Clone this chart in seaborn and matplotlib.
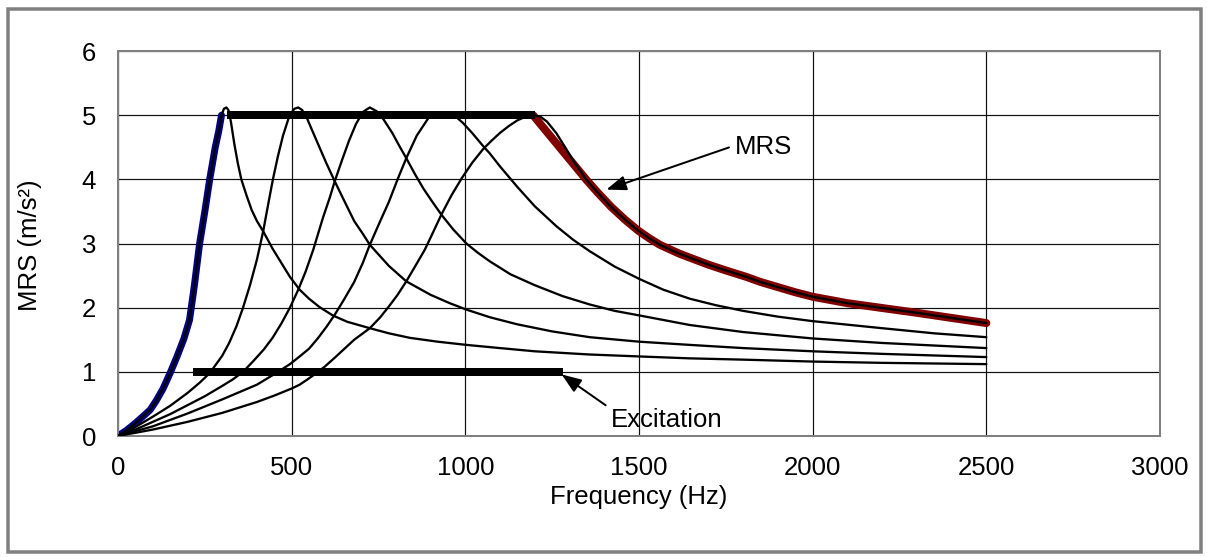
import matplotlib
matplotlib.use("Agg")
import matplotlib.pyplot as plt
import matplotlib.patches as mpatches
import seaborn as sns

# ---------------- data ----------------
f1 = [0, 25, 50, 75, 93, 110, 130, 150, 170, 190, 206, 220, 235, 250, 264, 280, 290, 298, 305, 312, 318, 325, 335, 345, 355, 370, 385, 400, 418, 445, 470, 495, 523, 550, 580, 618, 660, 725, 780, 840, 920, 1003, 1100, 1200, 1358, 1500, 1646, 1800, 2000, 2200, 2500]
v1 = [0, 0.09, 0.2, 0.32, 0.41, 0.55, 0.74, 0.98, 1.24, 1.52, 1.81, 2.35, 3.0, 3.5, 4.0, 4.5, 4.75, 5.0, 5.1, 5.12, 5.08, 4.9, 4.55, 4.25, 4.0, 3.75, 3.52, 3.35, 3.19, 2.92, 2.7, 2.48, 2.28, 2.14, 2.01, 1.88, 1.78, 1.68, 1.6, 1.53, 1.47, 1.42, 1.37, 1.32, 1.27, 1.24, 1.21, 1.19, 1.16, 1.14, 1.12]

f2 = [0, 50, 100, 150, 200, 235, 264, 300, 320, 341, 360, 380, 400, 418, 432, 446, 460, 475, 494, 508, 519, 530, 542, 560, 580, 600, 624, 650, 680, 705, 725, 750, 780, 830, 900, 955, 1003, 1071, 1150, 1250, 1358, 1500, 1646, 1800, 2000, 2200, 2500]
v2 = [0, 0.14, 0.3, 0.47, 0.67, 0.83, 0.98, 1.25, 1.45, 1.71, 2.0, 2.35, 2.75, 3.19, 3.6, 4.0, 4.35, 4.68, 5.0, 5.1, 5.12, 5.08, 4.98, 4.75, 4.5, 4.25, 3.97, 3.68, 3.35, 3.15, 2.98, 2.83, 2.65, 2.41, 2.2, 2.07, 1.97, 1.85, 1.74, 1.63, 1.54, 1.47, 1.42, 1.37, 1.32, 1.28, 1.23]

f3 = [0, 50, 100, 150, 200, 250, 300, 330, 360, 390, 420, 445, 470, 495, 519, 540, 562, 590, 610, 624, 645, 665, 685, 705, 725, 745, 765, 790, 810, 830, 855, 880, 905, 931, 965, 1003, 1035, 1071, 1130, 1200, 1280, 1358, 1430, 1500, 1646, 1800, 2000, 2200, 2500]
v3 = [0, 0.1, 0.22, 0.34, 0.48, 0.62, 0.78, 0.88, 1.0, 1.17, 1.35, 1.53, 1.75, 2.0, 2.28, 2.56, 2.9, 3.4, 3.72, 3.97, 4.3, 4.6, 4.86, 5.05, 5.12, 5.06, 4.93, 4.72, 4.52, 4.33, 4.08, 3.85, 3.65, 3.45, 3.22, 3.0, 2.86, 2.72, 2.52, 2.35, 2.18, 2.05, 1.95, 1.88, 1.73, 1.62, 1.52, 1.45, 1.37]

f4 = [0, 100, 200, 300, 400, 461, 495, 523, 550, 575, 600, 624, 650, 680, 705, 725, 755, 780, 805, 830, 860, 893, 915, 935, 955, 974, 993, 1020, 1051, 1071, 1100, 1150, 1200, 1262, 1310, 1358, 1430, 1500, 1570, 1646, 1720, 1800, 1900, 2000, 2200, 2350, 2500]
v4 = [0, 0.15, 0.35, 0.57, 0.8, 1.0, 1.12, 1.24, 1.36, 1.52, 1.7, 1.89, 2.12, 2.4, 2.7, 2.98, 3.35, 3.65, 4.0, 4.33, 4.68, 4.95, 5.02, 5.04, 5.02, 4.97, 4.88, 4.72, 4.52, 4.4, 4.2, 3.88, 3.58, 3.27, 3.06, 2.88, 2.64, 2.45, 2.28, 2.14, 2.04, 1.95, 1.86, 1.79, 1.68, 1.6, 1.54]

f5 = [0, 100, 200, 300, 400, 450, 500, 523, 545, 566, 595, 624, 650, 680, 705, 725, 755, 780, 805, 830, 855, 883, 905, 931, 960, 990, 1020, 1051, 1075, 1099, 1125, 1150, 1175, 1195, 1215, 1235, 1262, 1285, 1310, 1330, 1349, 1380, 1420, 1460, 1498, 1530, 1560, 1617, 1646, 1700, 1750, 1809, 1850, 1900, 1950, 2000, 2100, 2193, 2300, 2400, 2500]
v5 = [0, 0.1, 0.22, 0.36, 0.53, 0.63, 0.74, 0.8, 0.88, 0.96, 1.08, 1.22, 1.35, 1.5, 1.6, 1.68, 1.85, 2.02, 2.2, 2.41, 2.64, 2.9, 3.15, 3.45, 3.75, 4.02, 4.26, 4.47, 4.6, 4.72, 4.83, 4.92, 4.98, 5.0, 4.98, 4.9, 4.72, 4.52, 4.3, 4.14, 3.99, 3.8, 3.57, 3.37, 3.2, 3.08, 2.98, 2.84, 2.78, 2.67, 2.58, 2.48, 2.4, 2.32, 2.24, 2.17, 2.07, 2.0, 1.92, 1.84, 1.76]

mrs_low_f = [0, 25, 50, 75, 93, 110, 130, 150, 170, 190, 206, 220, 235, 250, 264, 280, 290, 298]
mrs_low_v = [0, 0.09, 0.2, 0.32, 0.41, 0.55, 0.74, 0.98, 1.24, 1.52, 1.81, 2.35, 3.0, 3.5, 4.0, 4.5, 4.75, 5.0]

mrs_flat_f = [313, 1200]
mrs_flat_v = [5, 5]

mrs_high_f = [1195, 1349, 1380, 1420, 1460, 1498, 1530, 1560, 1617, 1646, 1700, 1750, 1809, 1850, 1900, 1950, 2000, 2100, 2193, 2300, 2400, 2500]
mrs_high_v = [5.0, 3.99, 3.8, 3.57, 3.37, 3.2, 3.08, 2.98, 2.84, 2.78, 2.67, 2.58, 2.48, 2.4, 2.32, 2.24, 2.17, 2.07, 2.0, 1.92, 1.84, 1.76]

exc_f = [216, 1281]
exc_v = [1, 1]

x_ticks = [0, 500, 1000, 1500, 2000, 2500, 3000]
y_ticks = [0, 1, 2, 3, 4, 5, 6]

# ---------------- figure ----------------
sns.set_theme(style="white")
plt.rcParams['font.family'] = ['Liberation Sans', 'DejaVu Sans']
plt.rcParams['text.color'] = 'black'

W, H = 1207, 557
DPI = 100
fig = plt.figure(figsize=(W / DPI, H / DPI), dpi=DPI)
fig.patch.set_facecolor('white')

def px(v):
    return v * 72.0 / DPI

ax = fig.add_axes([118 / W, 1 - 436 / H, (1160 - 118) / W, (436 - 51) / H])
ax.set_facecolor('white')

# MRS envelope underlays
sns.lineplot(x=mrs_low_f, y=mrs_low_v, ax=ax, color='#000080', lw=px(7), sort=False,
             estimator=None, solid_capstyle='round', solid_joinstyle='round', zorder=2)
sns.lineplot(x=mrs_high_f, y=mrs_high_v, ax=ax, color='#800000', lw=px(8), sort=False,
             estimator=None, solid_capstyle='round', solid_joinstyle='round', zorder=2)

# response curves
for ff, vv in [(f1, v1), (f2, v2), (f3, v3), (f4, v4), (f5, v5)]:
    sns.lineplot(x=ff, y=vv, ax=ax, color='black', lw=px(2.3), sort=False,
                 estimator=None, solid_joinstyle='round', zorder=3)

# flat MRS and excitation bars
sns.lineplot(x=mrs_flat_f, y=mrs_flat_v, ax=ax, color='black', lw=px(8), sort=False,
             estimator=None, solid_capstyle='butt', zorder=4)
sns.lineplot(x=exc_f, y=exc_v, ax=ax, color='black', lw=px(8), sort=False,
             estimator=None, solid_capstyle='butt', zorder=4)

ax.set_xlim(0, 3000)
ax.set_ylim(0, 6)
ax.set_xticks(x_ticks)
ax.set_yticks(y_ticks)
ax.set_xticklabels([str(t) for t in x_ticks])
ax.set_yticklabels([str(t) for t in y_ticks])
ax.set_xlabel('')
ax.set_ylabel('')

ax.grid(True, color='#111111', lw=px(1.2), zorder=0)
ax.set_axisbelow(True)
for s in ax.spines.values():
    s.set_visible(True)
    s.set_color('#808080')
    s.set_linewidth(px(2))

FS = 18.5
ax.tick_params(axis='both', which='major', direction='out', length=px(8), width=px(1.5),
               color='#808080', labelsize=FS, labelcolor='black')
ax.tick_params(axis='y', pad=px(14))
ax.tick_params(axis='x', pad=px(12))

fig.text(639 / W, 1 - 497 / H, 'Frequency (Hz)', ha='center', va='center', fontsize=FS, color='black')
fig.text(30 / W, 1 - 245 / H, 'MRS (m/s²)', ha='center', va='center', rotation=90, fontsize=FS, color='black')

arrow_kw = dict(arrowstyle='-|>,head_length=0.8,head_width=0.3', color='black',
                lw=px(2), mutation_scale=15, shrinkA=2, shrinkB=0)
ax.annotate('MRS', xy=(1406, 3.84), xytext=(1776, 4.51), ha='left', va='center', color='black',
            fontsize=FS, arrowprops=dict(relpos=(0, 0.55), **arrow_kw), zorder=6)
ax.annotate('Excitation', xy=(1277, 0.96), xytext=(1420, 0.25), ha='left', va='center', color='black',
            fontsize=FS, arrowprops=dict(relpos=(0, 0.95), **arrow_kw), zorder=6)

# outer chart frame
frame = mpatches.Rectangle((8 / W, 1 - 552 / H), (1201 - 8) / W, (552 - 9) / H,
                           transform=fig.transFigure, fill=False, edgecolor='#808080',
                           lw=px(3.5), zorder=10)
fig.patches.append(frame)

fig.savefig('out.png', dpi=DPI, facecolor='white')
